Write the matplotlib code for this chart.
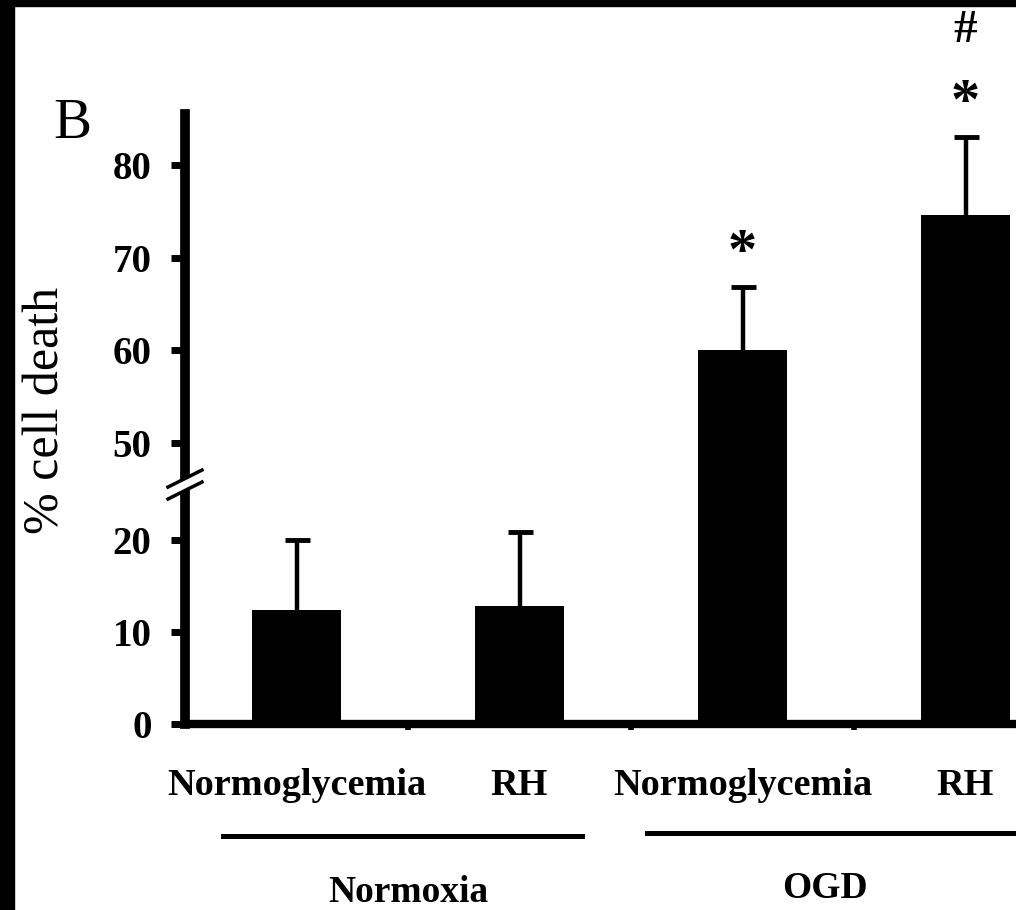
import numpy as np
import matplotlib.pyplot as plt
from matplotlib.patches import Rectangle, Polygon
from matplotlib.lines import Line2D
from matplotlib.transforms import blended_transform_factory, ScaledTranslation

plt.rcParams['font.family'] = ['Liberation Serif', 'DejaVu Serif']

# data
conditions = ['Normoglycemia', 'RH', 'Normoglycemia', 'RH']
groups = ['Normoxia', 'OGD']
group_pos = [0.5, 2.37]
group_spans = [(-0.33, 1.28), (1.57, 3.6)]
cell_death = [12.4, 12.8, 60.0, 74.6]
sem = [7.6, 8.1, 6.8, 8.4]
star = ['', '', '*', '*']
hash_mark = ['', '', '', '#']

x = np.arange(len(cell_death))

fig = plt.figure(figsize=(10.16, 9.10), dpi=100)
ax_lo = fig.add_axes([0.1821, 0.2044, 0.878, 0.2637])
ax_hi = fig.add_axes([0.1821, 0.4681, 0.878, 0.4066])

for ax in (ax_lo, ax_hi):
    ax.bar(x, cell_death, width=0.4, color='black', zorder=2)
    eb = ax.errorbar(x, cell_death, yerr=[np.zeros(len(sem)), sem], fmt='none',
                     ecolor='black', elinewidth=3.2, capsize=9, capthick=3.5, zorder=1)
    eb[1][0].set_visible(False)  # no cap on the bar top
    ax.set_xlim(-0.5, 3.5)
    ax.spines[['top', 'right']].set_visible(False)
    ax.spines['left'].set_linewidth(7)
    ax.tick_params(axis='y', length=10, width=5, pad=14, labelsize=28)

ax_lo.set_ylim(0, 26.1)
ax_hi.set_ylim(45.6, 85.5)
ax_lo.set_yticks([0, 10, 20])
ax_hi.set_yticks([50, 60, 70, 80])
for ax in (ax_lo, ax_hi):
    plt.setp(ax.get_yticklabels(), fontweight='bold')

ax_hi.spines['bottom'].set_visible(False)
ax_hi.set_xticks([])

ax_lo.spines['bottom'].set_linewidth(6)
ax_lo.set_xticks(x, conditions, fontweight='bold', fontsize=27.5)
ax_lo.set_xticks([0.5, 1.5, 2.5], minor=True)
ax_lo.tick_params(axis='x', which='major', length=0, pad=32)
ax_lo.tick_params(axis='x', which='minor', length=4, width=4)

# significance marks
for xi, v, e, s, h in zip(x, cell_death, sem, star, hash_mark):
    if s:
        ax_hi.text(xi, v + e + 3.6, s, ha='center', va='center',
                   fontsize=42, fontweight='bold')
    if h:
        ax_hi.text(xi, v + e + 11.4, h, ha='center', va='center',
                   fontsize=34, fontweight='bold')

# group lines and names under the axis
trans = blended_transform_factory(ax_lo.transData, fig.transFigure)
for (x0, x1), yy in zip(group_spans, [0.0813, 0.0846]):
    ax_lo.add_line(Line2D([x0, x1], [yy, yy], transform=trans, color='black',
                          lw=3.6, clip_on=False))
for name, gx, yy in zip(groups, group_pos, [0.009, 0.013]):
    ax_lo.text(gx, yy, name, transform=trans, ha='center', va='baseline',
               fontsize=27, fontweight='bold')

# axis break marker on the y spine
brk = fig.dpi_scale_trans + ScaledTranslation(0, 1, ax_lo.transAxes)
fig.add_artist(Polygon([(-0.07, 0.021), (0.07, 0.09), (0.07, -0.03), (-0.07, -0.10)],
                       closed=True, transform=brk, color='white', zorder=5))
fig.add_artist(Line2D([-0.17, 0.17], [-0.03, 0.14], transform=brk, color='black',
                      lw=2.5, zorder=6))
fig.add_artist(Line2D([-0.17, 0.17], [-0.15, 0.02], transform=brk, color='black',
                      lw=2.5, zorder=6))

fig.text(0.046, 1 - 410 / 910, '% cell death', rotation=90, ha='center', va='center',
         fontsize=36)
fig.text(0.052, 1 - 138 / 910, 'B', ha='left', va='baseline', fontsize=41)

# black frame edges of the scanned panel
fig.add_artist(Rectangle((0, 1 - 6 / 910), 1, 6 / 910, transform=fig.transFigure,
                         color='black', zorder=10))
fig.add_artist(Rectangle((0, 0), 14 / 1016, 1, transform=fig.transFigure,
                         color='black', zorder=10))

fig.savefig('out.png', dpi=100)
